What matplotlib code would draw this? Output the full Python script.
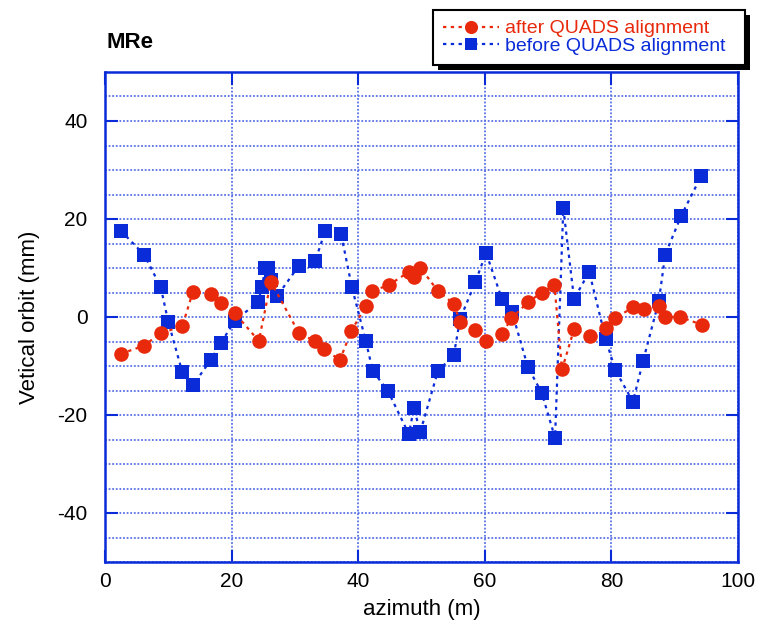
import matplotlib
matplotlib.use("Agg")
import matplotlib.pyplot as plt
from matplotlib.ticker import MultipleLocator
from matplotlib.patches import Rectangle

plt.rcParams['font.family'] = ['Liberation Sans', 'DejaVu Sans']
plt.rcParams['axes.unicode_minus'] = False

# after QUADS alignment (red circles)
after_x = [2.5, 6.1, 8.8, 12.2, 13.9, 16.7, 18.3, 20.5, 24.3, 26.2, 30.6, 33.1,
           34.6, 37.1, 38.9, 41.2, 42.2, 44.8, 48.0, 48.8, 49.8, 52.6, 55.1, 56.1,
           58.4, 60.2, 62.7, 64.2, 66.8, 69.0, 71.0, 72.2, 74.1, 76.6, 79.1, 80.6,
           83.4, 85.1, 87.5, 88.4, 90.9, 94.3]
after_y = [-7.5, -5.9, -3.3, -1.9, 5.2, 4.6, 2.9, 0.8, -4.9, 7.2, -3.2, -4.9,
           -6.5, -8.8, -2.9, 2.3, 5.3, 6.5, 9.2, 8.2, 10.1, 5.3, 2.7, -1.0,
           -2.6, -4.8, -3.5, -0.3, 3.0, 5.0, 6.5, -10.7, -2.5, -3.8, -2.3, -0.3,
           2.0, 1.6, 2.2, 0.0, 0.0, -1.6]

# before QUADS alignment (blue squares)
before_x = [2.5, 6.2, 8.8, 10.0, 12.2, 13.9, 16.7, 18.3, 20.5, 24.2, 24.8, 25.3,
            25.7, 26.2, 27.2, 30.6, 33.2, 34.8, 37.3, 39.0, 41.2, 42.3, 44.7, 48.0,
            48.8, 49.8, 52.6, 55.1, 56.1, 58.5, 60.2, 62.7, 64.3, 66.8, 69.0, 71.1,
            72.4, 74.1, 76.5, 79.1, 80.6, 83.4, 85.0, 87.5, 88.5, 91.0, 94.2]
before_y = [17.6, 12.7, 6.1, -1.0, -11.2, -13.9, -8.8, -5.3, -0.8, 3.1, 6.1, 10.0,
            10.0, 7.6, 4.3, 10.4, 11.4, 17.6, 16.9, 6.1, -4.9, -11.0, -15.1, -23.9,
            -18.6, -23.5, -11.0, -7.8, -0.4, 7.1, 13.1, 3.7, 1.0, -10.2, -15.5, -24.7,
            22.2, 3.7, 9.2, -4.5, -10.8, -17.3, -9.0, 3.3, 12.7, 20.6, 28.8]

RED = '#e8290b'
BLUE = '#0a2bd8'
GRID = '#5a72e6'
W, H = 757, 626

fig = plt.figure(figsize=(W / 100, H / 100), dpi=100)
ax = fig.add_axes([105 / W, 1 - 562 / H, (738 - 105) / W, (562 - 72) / H])

ax.set_xlim(0, 100)
ax.set_ylim(-50, 50)

ax.xaxis.set_major_locator(MultipleLocator(20))
ax.yaxis.set_major_locator(MultipleLocator(20))
ax.yaxis.set_minor_locator(MultipleLocator(5))

ax.grid(True, which='major', axis='x', color=GRID, linestyle=(0, (1, 1)), linewidth=1.3)
ax.grid(True, which='both', axis='y', color=GRID, linestyle=(0, (1, 1)), linewidth=1.3)
ax.set_axisbelow(True)

ax.plot(before_x, before_y, linestyle=(0, (1.5, 2)), linewidth=1.6, color=BLUE,
        marker='s', markersize=10, markeredgewidth=0, label='before QUADS alignment')
ax.plot(after_x, after_y, linestyle=(0, (1.5, 2)), linewidth=1.6, color=RED,
        marker='o', markersize=10.5, markeredgewidth=0, label='after QUADS alignment')

for s in ax.spines.values():
    s.set_color(BLUE)
    s.set_linewidth(1.8)

ax.tick_params(axis='both', which='major', direction='in', length=9, width=1.5,
               color=BLUE, labelsize=15, labelcolor='black',
               left=True, right=True, top=True, bottom=True)
ax.tick_params(axis='y', which='major', pad=12.5)
ax.tick_params(axis='x', which='major', pad=7)
ax.tick_params(axis='y', which='minor', length=0, left=False, right=False)

ax.set_xlabel('azimuth (m)', fontsize=16)
ax.xaxis.label.set_va('center')
ax.xaxis.set_label_coords(0.5, -(610 - 562) / (562 - 72))
ax.set_ylabel('Vetical orbit (mm)', fontsize=16)
ax.yaxis.label.set_va('center')
ax.yaxis.set_label_coords(-(105 - 30) / (738 - 105), 0.5)

fig.text(107 / W, 1 - 43 / H, 'MRe', fontsize=16, fontweight='bold', va='center', ha='left')

handles, labels = ax.get_legend_handles_labels()
leg = fig.legend([handles[1], handles[0]], [labels[1], labels[0]],
                 loc='upper left',
                 bbox_to_anchor=(433 / W, 1 - 63 / H, (745 - 433) / W, 53 / H),
                 mode='expand',
                 frameon=True, fancybox=False, shadow=False,
                 edgecolor='black', fontsize=14, labelcolor='linecolor',
                 handlelength=2.9, handletextpad=0.3, borderpad=0.5,
                 labelspacing=0.0, borderaxespad=0.0, markerscale=0.9,
                 framealpha=1)
leg.get_frame().set_linewidth(1.5)
leg.set_zorder(5)

fig.canvas.draw()
bb = leg.get_frame().get_window_extent()
off = 5
shadow = Rectangle(((bb.x0 + off) / W, (bb.y0 - off) / H), bb.width / W, bb.height / H,
                   transform=fig.transFigure, facecolor='black', edgecolor='none', zorder=4)
fig.add_artist(shadow)

fig.savefig('out.png', dpi=100)
